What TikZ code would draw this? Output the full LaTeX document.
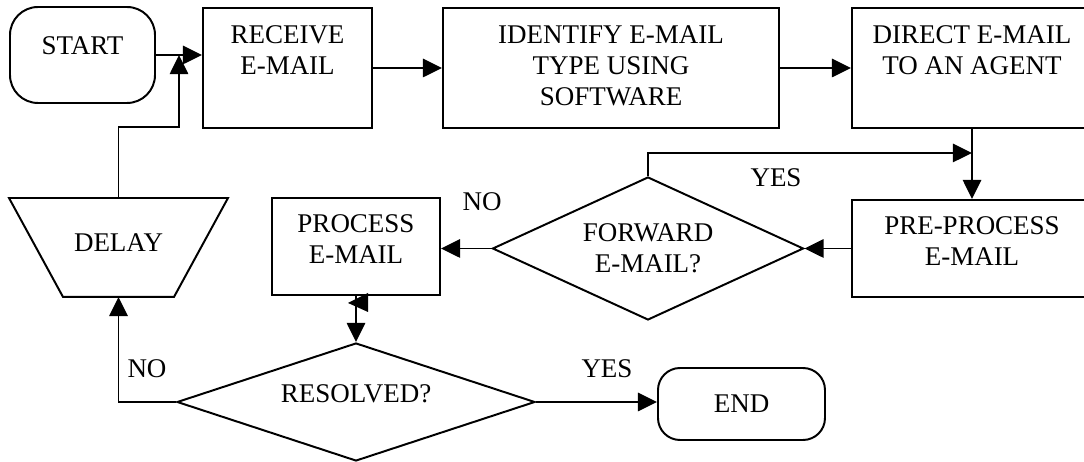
\documentclass[tikz,border=0pt]{standalone}
\usepackage{fontspec}
\setmainfont{Liberation Serif}
\usetikzlibrary{arrows.meta,calc,shapes.geometric}

\begin{document}
\begin{tikzpicture}[>={Triangle[length=0.48cm,width=0.46cm]}, line width=1.4pt,
    every node/.style={font=\fontsize{19.2}{22}\selectfont},
    box/.style={draw, rectangle, inner sep=0pt},
    term/.style={draw, rectangle, rounded corners=0.7cm, inner sep=0pt},
    txt/.style={anchor=north, align=center, inner sep=0pt},
    mid/.style={align=center, inner sep=0pt}]

    \useasboundingbox (0,0) rectangle (27.1,11.55);

    % 1. 上排：开始与三个处理框
    \node[term, minimum width=3.625cm, minimum height=2.4cm,
          label={[txt, yshift=-0.75cm]north:START}] (start) at (2.0625,10.175) {};
    \node[box, minimum width=4.225cm, minimum height=3cm,
          label={[txt, yshift=-0.45cm]north:RECEIVE\\E-MAIL}] (rec) at (7.1875,9.85) {};
    \node[box, minimum width=8.4cm, minimum height=3cm,
          label={[txt, yshift=-0.45cm]north:IDENTIFY E-MAIL\\TYPE USING\\SOFTWARE}] (ident) at (15.275,9.85) {};
    \node[box, minimum width=6cm, minimum height=3cm,
          label={[txt, yshift=-0.45cm]north:DIRECT E-MAIL\\TO AN AGENT}] (dir) at (24.3,9.85) {};

    % 2. 中排：预处理、判断、处理、延时
    \node[box, minimum width=6cm, minimum height=2.425cm,
          label={[txt, yshift=-0.425cm]north:PRE-PROCESS\\E-MAIL}] (pre) at (24.3,5.3375) {};
    \node[draw, diamond, inner sep=0pt, minimum width=7.775cm, minimum height=3.575cm,
          label={[mid]center:FORWARD\\E-MAIL?}] (fwd) at (16.2,5.3375) {};
    \node[box, minimum width=4.2cm, minimum height=2.425cm,
          label={[txt, yshift=-0.425cm]north:PROCESS\\E-MAIL}] (proc) at (8.9,5.3875) {};
    % 延时框：倒梯形
    \node[inner sep=0pt, minimum width=5.425cm, minimum height=2.425cm,
          label={[mid, yshift=0.125cm]center:DELAY}] (delay) at (2.9625,5.3625) {};
    \draw (delay.north west) -- (delay.north east) -- ([xshift=-1.35cm]delay.south east)
          -- ([xshift=1.35cm]delay.south west) -- cycle;

    % 3. 下排：是否解决与结束
    \node[draw, diamond, inner sep=0pt, minimum width=8.95cm, minimum height=2.95cm,
          label={[mid, yshift=0.2cm]center:RESOLVED?}] (res) at (8.9,1.5) {};
    \node[term, rounded corners=0.55cm, minimum width=4.175cm, minimum height=1.8cm] (stop) at (18.5375,1.45) {END};

    % 4. 连线
    \coordinate (merge) at ($(start.east)!0.5!(start.east -| rec.west)$);
    \draw[->] (start.east) -- (start.east -| rec.west);
    \draw[->] (rec.east) -- (ident.west);
    \draw[->] (ident.east) -- (dir.west);
    \draw[->] (dir.south) -- (pre.north);
    \draw[->] (fwd.north) |- ([yshift=-0.6cm]dir.south);
    \draw[->] (pre.west) -- (fwd.east);
    \draw[->] (fwd.west) -- (fwd.west -| proc.east);
    \draw[->] (proc.south) -- (res.north);
    \fill (proc.south) ++(-0.2,-0.175) -- ++(0.5,0.25) -- ++(0,-0.475) -- cycle;
    \draw[->] (res.west) -| (delay.south);
    \draw[->] (delay.north) -- ++(0,1.775) -| (merge);
    \draw[->] (res.east) -- (res.east -| stop.west);

    % 5. 分支标注
    \node (noA) at (3.675,2.325) {NO};
    \node (noB) at (12.05,6.5125) {NO};
    \node (yesA) at (19.4,7.1125) {YES};
    \node (yesB) at (15.175,2.3375) {YES};

\end{tikzpicture}
\end{document}
